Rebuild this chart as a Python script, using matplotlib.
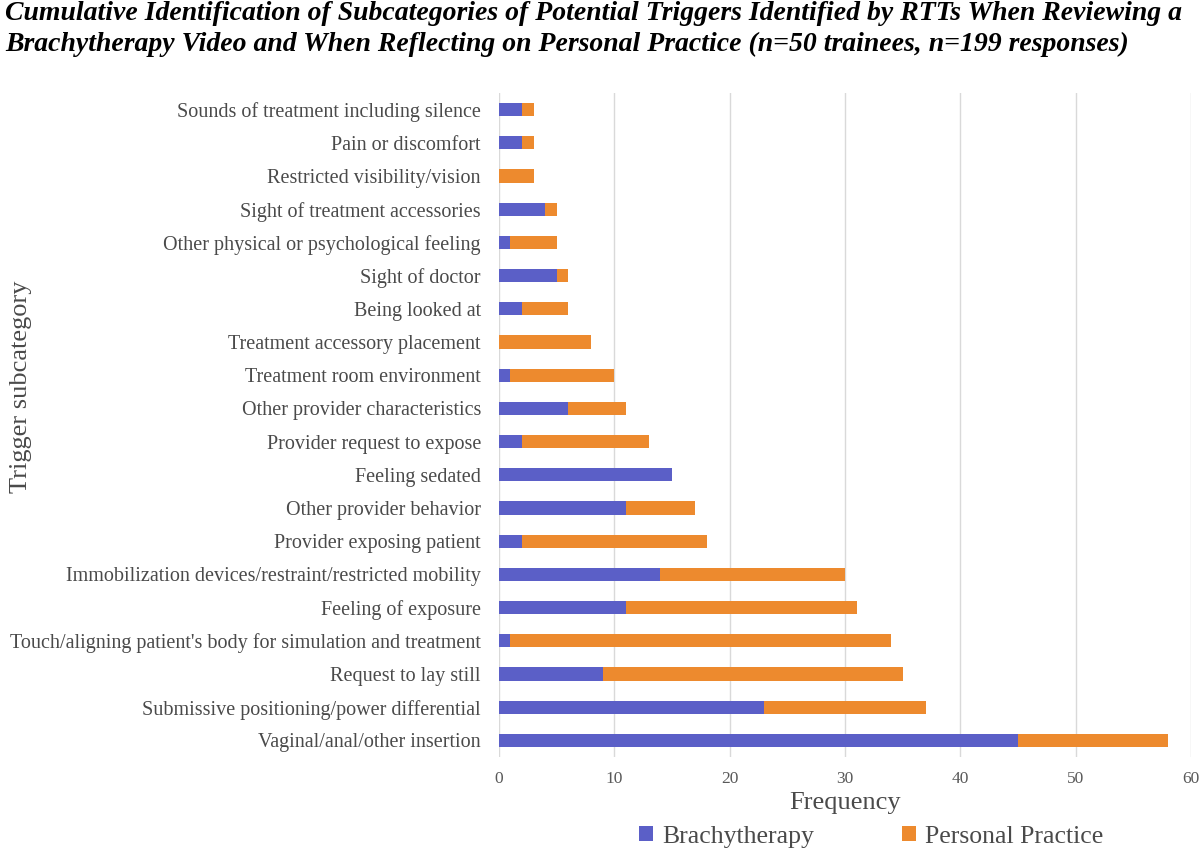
import matplotlib.pyplot as plt
import numpy as np

# subcategories, top to bottom as shown
labels = ["Sounds of treatment including silence", "Pain or discomfort",
          "Restricted visibility/vision", "Sight of treatment accessories",
          "Other physical or psychological feeling", "Sight of doctor",
          "Being looked at", "Treatment accessory placement",
          "Treatment room environment", "Other provider characteristics",
          "Provider request to expose", "Feeling sedated",
          "Other provider behavior", "Provider exposing patient",
          "Immobilization devices/restraint/restricted mobility",
          "Feeling of exposure",
          "Touch/aligning patient's body for simulation and treatment",
          "Request to lay still", "Submissive positioning/power differential",
          "Vaginal/anal/other insertion"]
brachy = [2, 2, 0, 4, 1, 5, 2, 0, 1, 6, 2, 15, 11, 2, 14, 11, 1, 9, 23, 45]
personal = [1, 1, 3, 1, 4, 1, 4, 8, 9, 5, 11, 0, 6, 16, 16, 20, 33, 26, 14, 13]
xticks = [0, 10, 20, 30, 40, 50, 60]

plt.rcParams['font.family'] = ['Liberation Serif', 'DejaVu Serif']
blue = "#5B5FC7"
orange = "#ED8A2E"
txt = "#4a4a4a"

fig = plt.figure(figsize=(12, 8.52), dpi=100)
ax = fig.add_axes([0.4158, 0.1115, 0.5767, 0.7793])

y = np.arange(len(labels))
ax.barh(y, brachy, height=0.4, color=blue, label="Brachytherapy", zorder=3)
ax.barh(y, personal, left=brachy, height=0.4, color=orange,
        label="Personal Practice", zorder=3)

ax.set_ylim(len(labels) - 0.5, -0.5)
ax.set_xlim(0, 60)
ax.set_xticks(xticks)
ax.set_yticks(y)
ax.set_yticklabels(labels, fontsize=14.5, color=txt)
ax.tick_params(axis='x', labelsize=12.5, colors="#595959", length=0, pad=10)
ax.tick_params(axis='y', length=0, pad=13)
ax.grid(axis='x', color="#d9d9d9", linewidth=1, zorder=0)
for s in ax.spines.values():
    s.set_visible(False)

ax.set_xlabel("Frequency", fontsize=19, color=txt, labelpad=4)
fig.text(0.008, 0.546, "Trigger subcategory", rotation=90, fontsize=19,
         color=txt, va='center', ha='left')

fig.legend(loc='center', bbox_to_anchor=(0.726, 0.018), ncol=2, frameon=False,
           fontsize=18.5, handlelength=0.55, handleheight=0.55, handletextpad=0.35,
           columnspacing=3.4, labelcolor=txt)

fig.text(0.004, 1 - 20 / 852, "Cumulative Identification of Subcategories of "
         "Potential Triggers Identified by RTTs When Reviewing a",
         fontsize=20, fontweight='bold', fontstyle='italic', va='baseline',
         ha='left')
fig.text(0.004, 1 - 51 / 852, "Brachytherapy Video and When Reflecting on "
         "Personal Practice (n=50 trainees, n=199 responses)",
         fontsize=20, fontweight='bold', fontstyle='italic', va='baseline',
         ha='left')

fig.savefig("out.png", dpi=100)
